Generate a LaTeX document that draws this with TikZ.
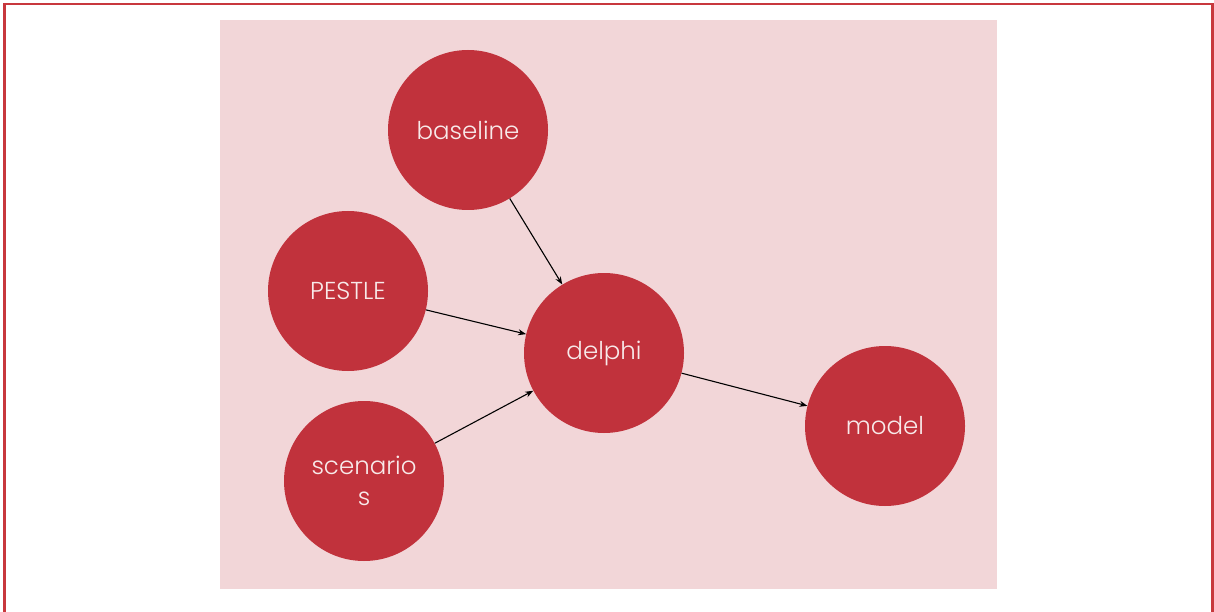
\documentclass[tikz,border=0pt]{standalone}
\usepackage{fontspec}
\setmainfont{Poppins}[UprightFont=* Light]
\usetikzlibrary{arrows.meta}
\definecolor{panel}{HTML}{F2D6D8}
\definecolor{bubble}{HTML}{C1323C}
\definecolor{frame}{HTML}{C8383D}
\definecolor{label}{HTML}{F8EAEA}
\tikzset{
  bubble/.style={circle, fill=bubble, minimum size=160pt, inner sep=0pt,
    text=label, font=\fontsize{24.5}{31}\selectfont, align=center},
  link/.style={draw=black, line width=1.1pt, -{Stealth[length=8pt,width=6pt]}}
}
\begin{document}
\begin{tikzpicture}[x=1pt,y=-1pt]
  \useasboundingbox (0,0) rectangle (1214,612);
  % outer frame, open at the bottom
  \draw[frame, line width=2.2pt] (4.5,614) -- (4.5,4) -- (1212.5,4) -- (1212.5,614);
  % shaded panel
  \fill[panel] (220,20) rectangle (997,589);
  % bubbles
  \node[bubble] (baseline)  at (468,130) {baseline};
  \node[bubble] (pestle)    at (348,291) {PESTLE};
  \node[bubble] (scenarios) at (364,481) {scenario\\s};
  \node[bubble] (delphi)    at (604,353) {delphi};
  \node[bubble] (model)     at (885,426) {model};
  % connectors
  \draw[link] (baseline)  -- (delphi);
  \draw[link] (pestle)    -- (delphi);
  \draw[link] (scenarios) -- (delphi);
  \draw[link] (delphi)    -- (model);
\end{tikzpicture}
\end{document}
